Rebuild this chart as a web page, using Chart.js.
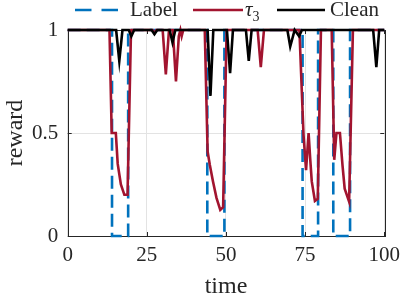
<!DOCTYPE html>
<html><head><meta charset="utf-8">
<script src="https://cdn.jsdelivr.net/npm/chart.js@4.4.0/dist/chart.umd.min.js"></script>
<style>
html,body{margin:0;padding:0;background:#fff;}
#wrap{position:relative;width:407px;height:297px;overflow:hidden;}
canvas{position:absolute;left:0;top:0;}
.lg{position:absolute;top:-1px;font-family:"Liberation Serif",serif;font-size:21px;color:#262626;line-height:21px;white-space:nowrap;}
.lg sub{font-size:14px;vertical-align:-5px;line-height:0;}
svg{position:absolute;top:0;}
</style></head><body>
<div id="wrap">
<canvas id="c" width="407" height="297"></canvas>
<svg style="left:75px" width="44" height="20"><line x1="0" y1="10" x2="44" y2="10" stroke="#0072BD" stroke-width="2.6" stroke-dasharray="16.5,10"/></svg>
<div class="lg" style="left:130px">Label</div>
<svg style="left:193px" width="50" height="20"><line x1="0" y1="10" x2="50" y2="10" stroke="#A2142F" stroke-width="2.6"/></svg>
<div class="lg" style="left:245px"><i>τ</i><sub>3</sub></div>
<svg style="left:277px" width="48" height="20"><line x1="0" y1="10" x2="48" y2="10" stroke="#000000" stroke-width="2.6"/></svg>
<div class="lg" style="left:330px">Clean</div>
</div>
<script>
// Label (ground-truth) series
const labelT = [0, 14, 14, 19.1, 19.1, 44.1, 44.1, 49.5, 49.5, 74.2, 74.2, 79.1, 79.1, 83.9, 83.9, 89.2, 89.2, 100];
const labelV = [1, 1, 0, 0, 1, 1, 0, 0, 1, 1, 0, 0, 1, 1, 0, 0, 1, 1];
// tau_3 series
const tauT = [0, 13.2, 13.9, 15.2, 15.8, 16.8, 17.9, 18.9, 20, 26.8, 27.4, 28, 30, 31, 32, 33.2, 34.2, 35.1, 35.6, 36, 36.5,
  43.3, 44.2, 44.9, 45.9, 47, 48.2, 49.1, 50.2, 60, 61, 62,
  73.2, 74.5, 75.3, 76.1, 76.6, 77.1, 78.1, 79, 80,
  83.4, 84.2, 84.9, 86, 86.8, 87.5, 88.9, 90.1, 100];
const tauV = [1, 1, 0.5, 0.5, 0.35, 0.25, 0.2, 0.2, 1, 1, 0.985, 1, 1, 0.785, 1, 1, 0.75, 0.97, 1, 0.97, 1,
  1, 0.41, 0.345, 0.265, 0.185, 0.127, 0.14, 1, 1, 0.82, 1,
  1, 0.49, 0.32, 0.5, 0.377, 0.265, 0.17, 0.18, 1,
  1, 0.37, 0.5, 0.5, 0.345, 0.23, 0.167, 1, 1];
// Clean series
const cleanT = [0, 15.3, 16.3, 17.3, 19.3, 20.1, 21, 26.5, 27.4, 28.3, 32.2, 33.1, 34, 44.2, 45.1, 46, 50.3, 51.3, 52.2,
  56.3, 57.2, 58.1, 69.4, 70.3, 71.7, 73.1, 74, 96.5, 97.5, 98.4, 100];
const cleanV = [1, 1, 0.85, 1, 1, 0.97, 1, 1, 0.98, 1, 1, 0.94, 1, 1, 0.68, 1, 1, 0.79, 1,
  1, 0.85, 1, 1, 0.92, 1, 0.97, 1, 1, 0.82, 1, 1];
const xTicks = [0, 25, 50, 75, 100];
const yTicks = [0, 0.5, 1];

const pts = (t, v) => t.map((x, i) => ({x: x, y: v[i]}));
const AX = '#262626';
const F = 'Liberation Serif';

const boxPlugin = {
  id: 'box',
  beforeDatasetsDraw(chart) {
    const {ctx, chartArea: a, scales: {x, y}} = chart;
    ctx.save();
    ctx.strokeStyle = AX; ctx.lineWidth = 1;
    ctx.strokeRect(Math.round(a.left) + 0.5, Math.round(a.top) + 0.5, Math.round(a.right - a.left), Math.round(a.bottom - a.top));
    ctx.beginPath();
    xTicks.forEach(v => { const p = Math.round(x.getPixelForValue(v)) + 0.5;
      ctx.moveTo(p, a.bottom); ctx.lineTo(p, a.bottom - 4); ctx.moveTo(p, a.top); ctx.lineTo(p, a.top + 4); });
    yTicks.forEach(v => { const p = Math.round(y.getPixelForValue(v)) + 0.5;
      ctx.moveTo(a.left, p); ctx.lineTo(a.left + 4, p); ctx.moveTo(a.right, p); ctx.lineTo(a.right - 4, p); });
    ctx.stroke();
    ctx.restore();
  }
};

new Chart(document.getElementById('c'), {
  type: 'line',
  data: { datasets: [
    {label: 'Clean', data: pts(cleanT, cleanV), borderColor: '#000000', borderWidth: 2.6, pointRadius: 0, tension: 0, clip: false},
    {label: 'τ3', data: pts(tauT, tauV), borderColor: '#A2142F', borderWidth: 2.6, pointRadius: 0, tension: 0, clip: false},
    {label: 'Label', data: pts(labelT, labelV), borderColor: '#0072BD', borderWidth: 2.6, borderDash: [13, 6], pointRadius: 0, tension: 0, clip: false}
  ]},
  options: {
    animation: false, responsive: false, devicePixelRatio: 1,
    layout: {padding: {top: 30, right: 18.7, left: 0, bottom: 0}},
    plugins: {legend: {display: false}, tooltip: {enabled: false}},
    scales: {
      x: {type: 'linear', min: 0, max: 100,
        afterBuildTicks: s => { s.ticks = xTicks.map(v => ({value: v})); },
        grid: {color: '#e3e3e3', lineWidth: 1, drawTicks: false},
        border: {display: false},
        ticks: {font: {family: F, size: 21}, color: AX, padding: 7, maxRotation: 0, callback: v => String(v)},
        title: {display: true, text: 'time', font: {family: F, size: 24, lineHeight: 1}, color: AX, padding: {top: 0, bottom: -2}},
        afterFit: s => { s.height = 61; }
      },
      y: {type: 'linear', min: 0, max: 1,
        afterBuildTicks: s => { s.ticks = yTicks.map(v => ({value: v})); },
        grid: {color: '#e3e3e3', lineWidth: 1, drawTicks: false},
        border: {display: false},
        ticks: {font: {family: F, size: 21}, color: AX, padding: 9.5, callback: v => String(v)},
        title: {display: true, text: 'reward', font: {family: F, size: 24, lineHeight: 1}, color: AX, padding: {top: 3.5, bottom: 0}},
        afterFit: s => { s.width = 67.7; }
      }
    }
  },
  plugins: [boxPlugin]
});
</script>
</body></html>
